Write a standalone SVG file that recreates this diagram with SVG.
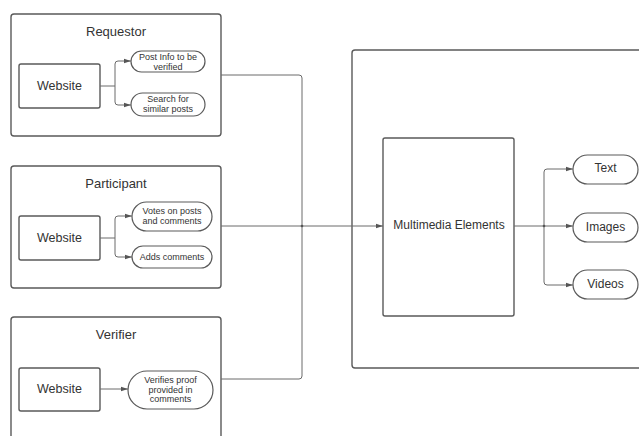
<svg xmlns="http://www.w3.org/2000/svg" width="639" height="436" viewBox="0 0 639 436">
<style>
.box{fill:#fff;stroke:#5a5a5a;stroke-width:1.4}
.pill{fill:#fff;stroke:#5a5a5a;stroke-width:1.2}
.ln{fill:none;stroke:#6a6a6a;stroke-width:1}
text{font-family:"Liberation Sans",Arial,sans-serif;fill:#333;text-anchor:middle;dominant-baseline:central}
.t{font-size:13px}
.w{font-size:12.5px}
.s{font-size:9px}
.m{font-size:12px}
.o{font-size:12px}
</style>
<defs>
<marker id="ah" markerWidth="7" markerHeight="6" refX="7" refY="3" orient="auto" markerUnits="userSpaceOnUse">
<path d="M0,0.8 L7,3 L0,5.2 Z" fill="#555"/>
</marker>
</defs>
<rect width="639" height="436" fill="#fff"/>
<g id="requestor">
<rect class="box" x="11" y="14" width="210" height="122" rx="3"/>
<text class="t" x="116" y="31">Requestor</text>
</g>
<g id="req-website"><rect class="box" x="19" y="64" width="81" height="44" rx="2"/><text class="w" x="59.5" y="86">Website</text></g>
<g id="req-post"><rect class="pill" x="131" y="51" width="74" height="21" rx="10.5"/><text class="s" x="168" y="57">Post Info to be</text><text class="s" x="168" y="67">verified</text></g>
<g id="req-search"><rect class="pill" x="131" y="93" width="74" height="23" rx="11.5"/><text class="s" x="168" y="99">Search for</text><text class="s" x="168" y="109">similar posts</text></g>
<g id="participant">
<rect class="box" x="11" y="166" width="210" height="122" rx="3"/>
<text class="t" x="116" y="183">Participant</text>
</g>
<g id="par-website"><rect class="box" x="19" y="216" width="81" height="44" rx="2"/><text class="w" x="59.5" y="238">Website</text></g>
<g id="par-votes"><rect class="pill" x="132" y="202" width="80" height="29" rx="14.5"/><text class="s" x="172" y="211">Votes on posts</text><text class="s" x="172" y="221">and comments</text></g>
<g id="par-adds"><rect class="pill" x="132" y="246" width="80" height="22" rx="11"/><text class="s" x="172" y="257">Adds comments</text></g>
<g id="verifier">
<rect class="box" x="11" y="317" width="210" height="130" rx="3"/>
<text class="t" x="116" y="334">Verifier</text>
</g>
<g id="ver-website"><rect class="box" x="19" y="368" width="81" height="43" rx="2"/><text class="w" x="59.5" y="389">Website</text></g>
<g id="ver-proof"><rect class="pill" x="128" y="371" width="85" height="38" rx="19"/><text class="s" x="170.5" y="380">Verifies proof</text><text class="s" x="170.5" y="389.5">provided in</text><text class="s" x="170.5" y="399">comments</text></g>
<g id="container"><rect class="box" x="352" y="50" width="300" height="318" rx="3"/></g>
<g id="multimedia"><rect class="box" x="383" y="138" width="131" height="178" rx="2"/><text class="m" x="449" y="225">Multimedia Elements</text></g>
<g id="text-node"><rect class="pill" x="573" y="155" width="65" height="29" rx="14.5"/><text class="o" x="605.5" y="168">Text</text></g>
<g id="images-node"><rect class="pill" x="573" y="213" width="65" height="29" rx="14.5"/><text class="o" x="605.5" y="226.5">Images</text></g>
<g id="videos-node"><rect class="pill" x="573" y="270" width="65" height="29" rx="14.5"/><text class="o" x="605.5" y="284">Videos</text></g>
<g id="connectors">
<path class="ln" d="M100,86 H115 V64 Q115,61 118,61 H131" marker-end="url(#ah)"/>
<path class="ln" d="M115,86 V102 Q115,105 118,105 H131" marker-end="url(#ah)"/>
<path class="ln" d="M100,238 H115 V219 Q115,216 118,216 H132" marker-end="url(#ah)"/>
<path class="ln" d="M115,238 V254 Q115,257 118,257 H132" marker-end="url(#ah)"/>
<path class="ln" d="M100,389 H128" marker-end="url(#ah)"/>
<path class="ln" d="M221,75 H299 Q302,75 302,78 V376 Q302,379 299,379 H221"/>
<path class="ln" d="M221,226 H383" marker-end="url(#ah)"/>
<circle cx="302" cy="226" r="1.3" fill="#555"/>
<path class="ln" d="M514,226 H573" marker-end="url(#ah)"/>
<path class="ln" d="M544,226 V172 Q544,169 547,169 H573" marker-end="url(#ah)"/>
<path class="ln" d="M544,226 V282 Q544,285 547,285 H573" marker-end="url(#ah)"/>
<circle cx="544" cy="226" r="1.3" fill="#555"/>
</g>
</svg>
